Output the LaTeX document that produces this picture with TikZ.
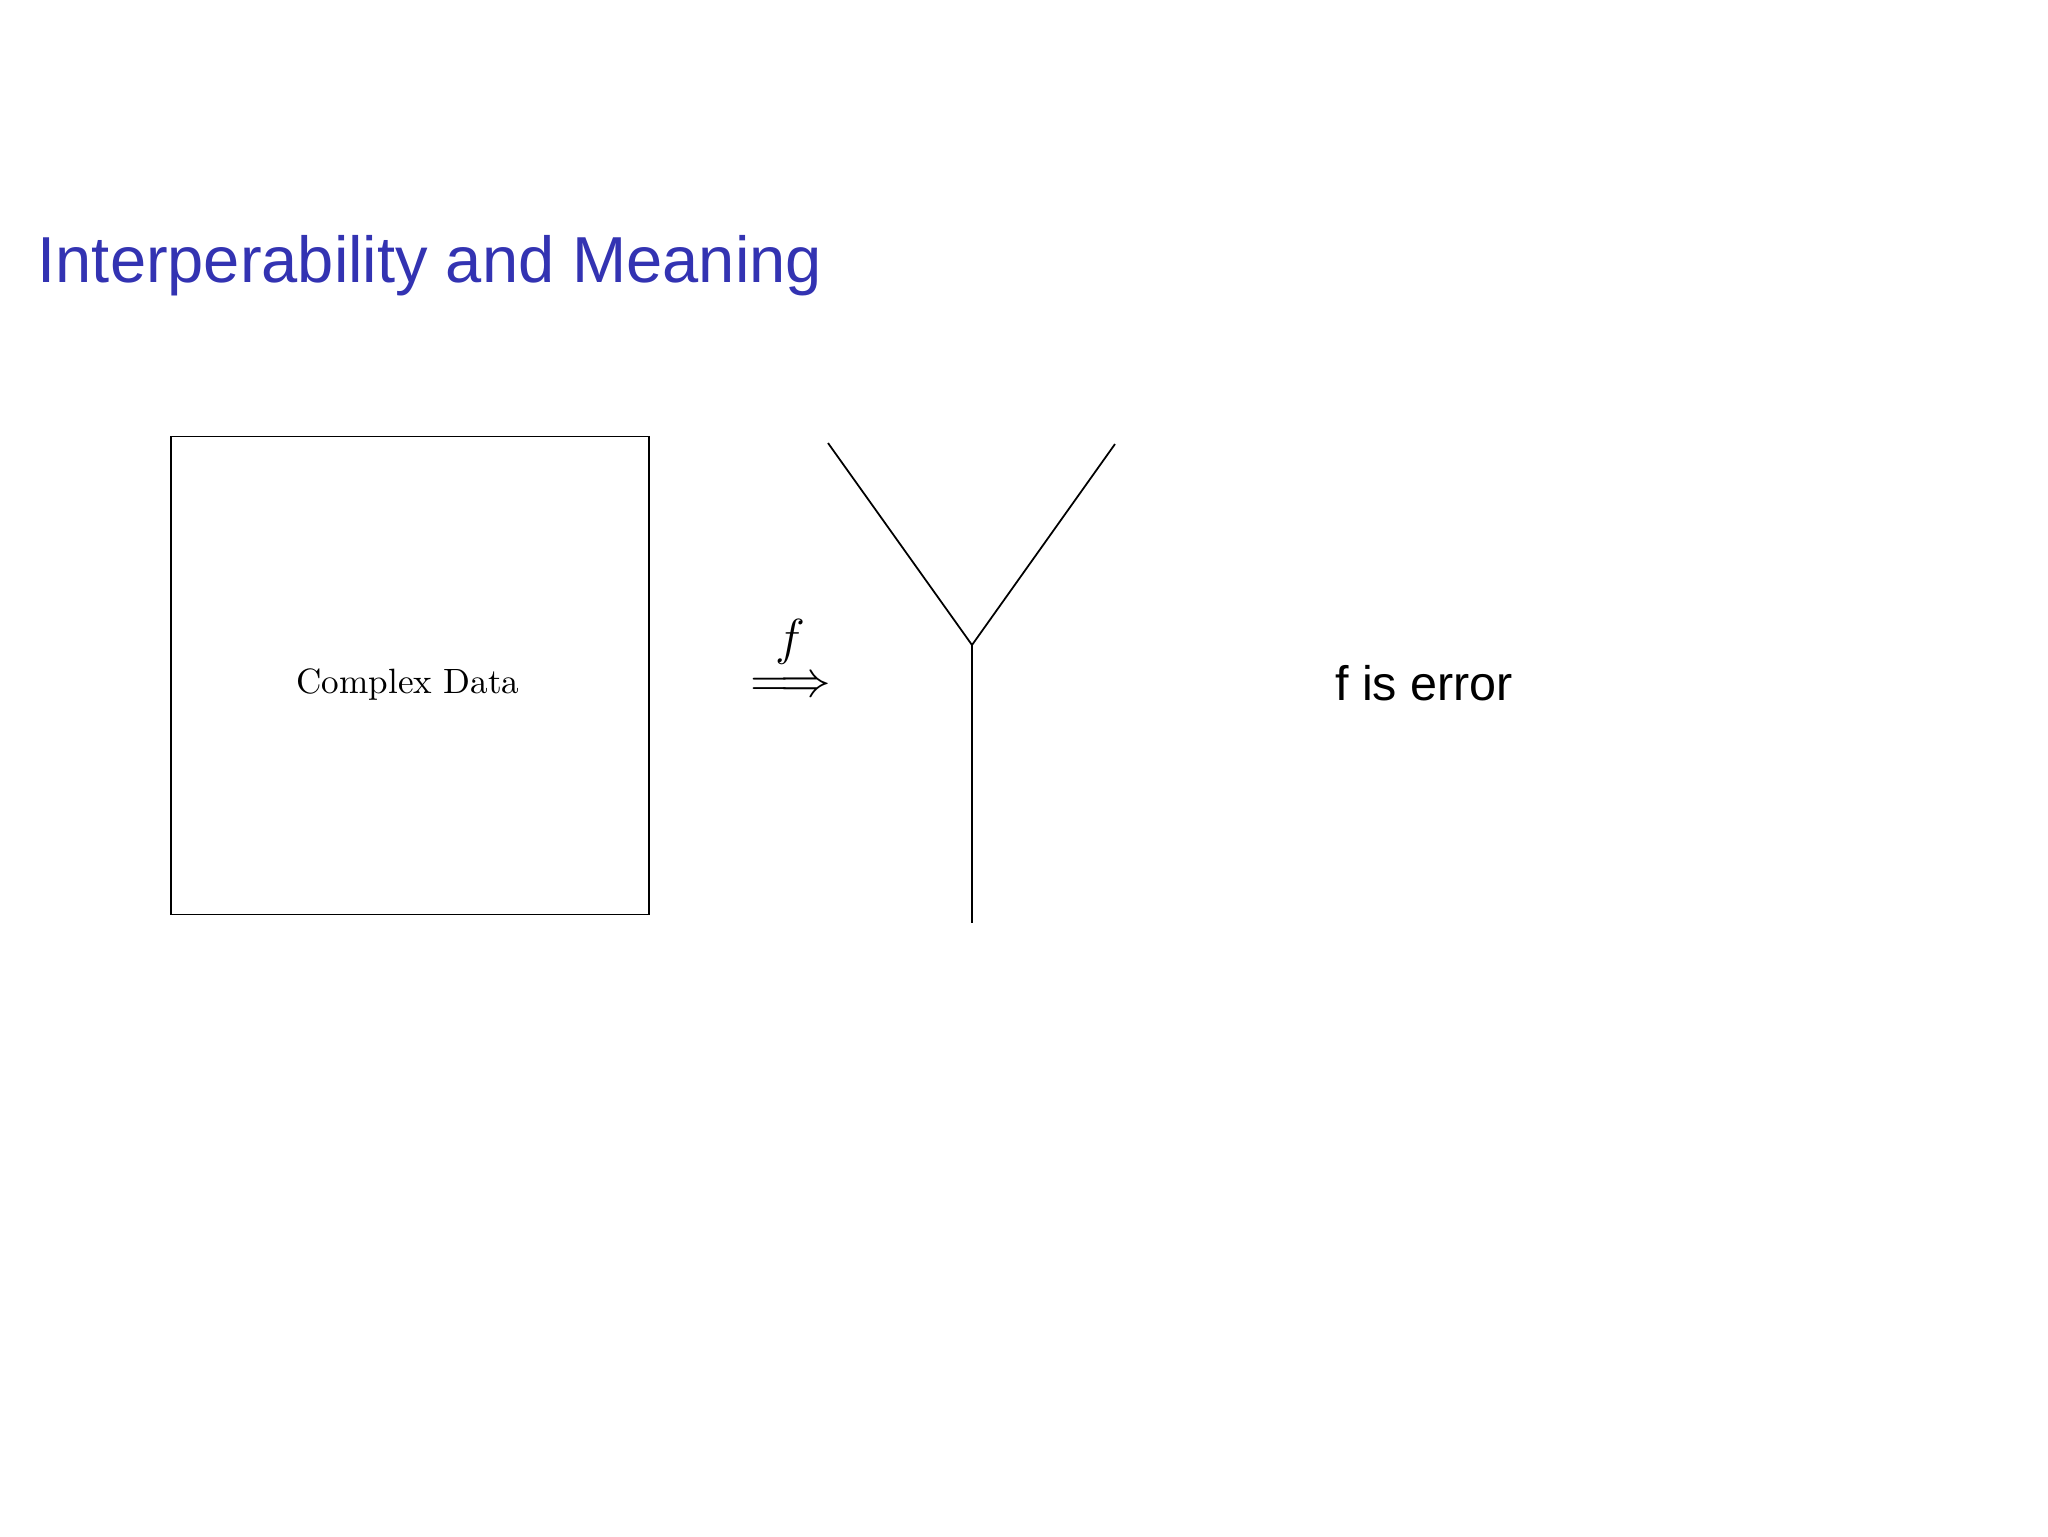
\documentclass[tikz,border=0pt]{standalone}
\usepackage{fontspec}
\newfontfamily\slidefont{Liberation Sans}
\usepackage{xcolor}
\definecolor{structureblue}{RGB}{51,51,178}
\usetikzlibrary{positioning}

\begin{document}
\begin{tikzpicture}[x=0.1mm, y=-0.1mm]
			\useasboundingbox (0,0) rectangle (2048,1536);
			
			\node [anchor=base west, inner sep=0, text=structureblue, font=\slidefont\fontsize{18.5}{22}\selectfont] (title) at (37,282) {Interperability and Meaning};
			
			\node [draw, line width=0.45pt, minimum size=47.8mm] (data) at (410,675.5) {};
			\node [inner sep=0, font=\fontsize{10}{12}\selectfont] (datatext) at (408,684) {Complex Data};
			
			\node [inner sep=0, font=\fontsize{14.4}{17}\selectfont] (map) at (790.5,687) {$\Longrightarrow$};
			\node [inner sep=0, font=\fontsize{14.4}{17}\selectfont, above=1.2mm of map] (fname) {$f$};
			
			\coordinate (yl) at (828,443);
			\coordinate (yr) at (1115,444);
			\coordinate (yj) at (972,645);
			\coordinate (yb) at (972,923);
			\begin{scope}[line width=0.5pt]
				\draw (yl) -- (yj) -- (yr);
				\draw (yj) -- (yb);
			\end{scope}
			
			\node [anchor=base, inner sep=0, font=\slidefont\fontsize{13.8}{16}\selectfont] (note) at (1424,700) {f is error};
		\end{tikzpicture}
\end{document}
